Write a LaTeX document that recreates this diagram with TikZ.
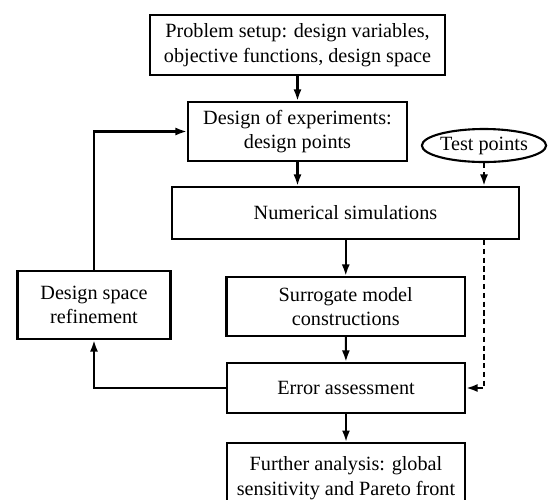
\documentclass[tikz,border=0pt]{standalone}
\usepackage{fontspec}
\setmainfont{Liberation Serif}
\usepackage{tikz}
\usetikzlibrary{
  positioning,
  arrows.meta,
  calc,
  shapes.geometric
}
\tikzset{
  box/.style={
    draw, line width=1.2pt, fill=white,
    inner sep=1pt,
    font=\fontsize{11.5}{14}\selectfont,
    align=center
  },
  flow/.style={-{Latex[length=2.3mm, width=1.6mm]}, line width=1.2pt, black},
  testflow/.style={flow, dash pattern=on 3pt off 2pt}
}

\begin{document}
\begin{tikzpicture}[
  x=1cm, y=1cm,
  oval/.style={ellipse, draw, line width=1.2pt, inner sep=0pt,
    minimum width=2.4cm, minimum height=0.66cm, font=\fontsize{11.5}{14}\selectfont},
]
\useasboundingbox (0, 0) rectangle (10.98, -9.98);

% Problem setup (top)
\node[box, minimum width=5.9cm, minimum height=1.2cm] (setup) at (5.95, -0.9)
  {Problem setup: design variables,\\objective functions, design space};

% Design of experiments
\node[box, minimum width=4.38cm, minimum height=1.18cm] (doe) at (5.95, -2.63)
  {Design of experiments:\\design points};

% Test points (ellipse)
\node[oval] (test) at (9.68, -2.91) {Test points};

% Numerical simulations
\node[box, minimum width=6.94cm, minimum height=1.04cm] (sim) at (6.91, -4.26)
  {Numerical simulations};

% Design space refinement (left)
\node[box, minimum width=3.06cm, minimum height=1.36cm] (refine) at (1.88, -6.1)
  {Design space\\refinement};

% Surrogate model
\node[box, minimum width=4.77cm, minimum height=1.18cm] (surr) at (6.915, -6.13)
  {Surrogate model\\constructions};

% Error assessment
\node[box, minimum width=4.76cm, minimum height=1.0cm] (err) at (6.92, -7.76)
  {Error assessment};

% Further analysis (bottom, runs past the lower edge)
\node[box, anchor=north, minimum width=4.76cm, minimum height=1.4cm] (further) at (6.92, -8.84)
  {Further analysis: global\\sensitivity and Pareto front};

% main flow
\draw[flow] (setup) -- (doe);
\draw[flow] (doe.south) -- (doe.south |- sim.north);
\draw[flow] (sim.south -| surr.north) -- (surr.north);
\draw[flow] (surr) -- (err);
\draw[flow] (err) -- (further);

% test points path (dashed)
\coordinate (tcol) at (test.south);
\draw[testflow] (test.south) -- (tcol |- sim.north);
\draw[testflow] (tcol |- sim.south) |- (err.east);

% refinement loop
\draw[flow] (err.west) -| (refine.south);
\draw[flow] (refine.north) |- (doe.west);

\end{tikzpicture}
\end{document}
